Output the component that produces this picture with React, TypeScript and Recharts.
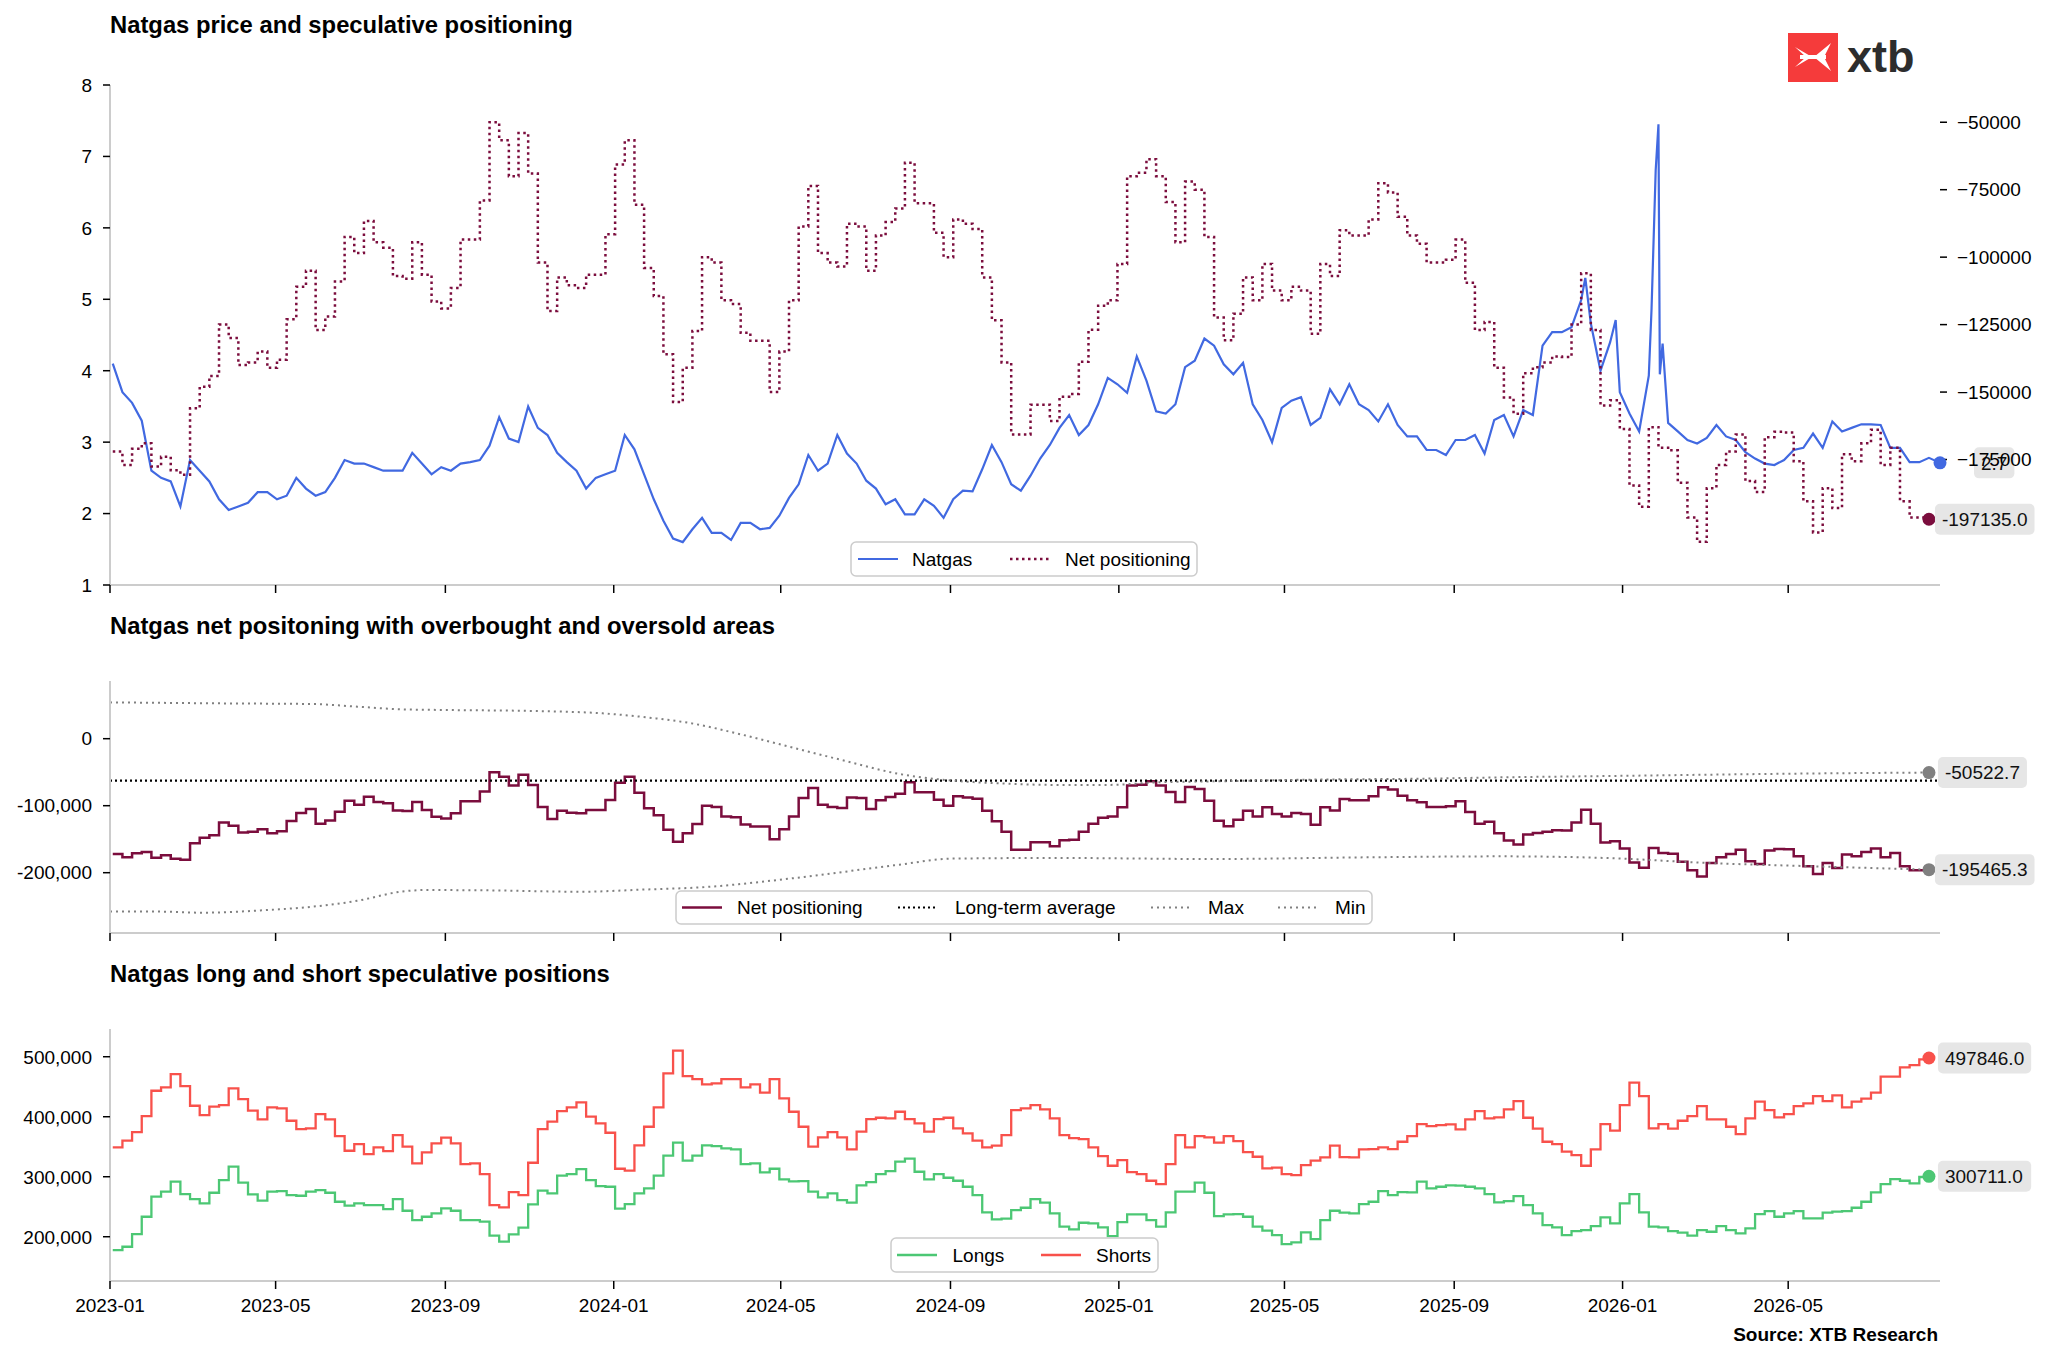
import { LineChart, Line, XAxis, YAxis, ReferenceDot } from 'recharts'

const FONT = '"Liberation Sans", Arial, Helvetica, sans-serif'

const AXIS_START = '2023-01-01'
const AXIS_END = '2026-08-19'      // last natgas print
const FIRST_REPORT = '2023-01-03'  // first weekly COT report (Tuesdays)

const xTickLabels = ['2023-01', '2023-05', '2023-09', '2024-01', '2024-05', '2024-09',
  '2025-01', '2025-05', '2025-09', '2026-01', '2026-05']

const priceTicks = [1, 2, 3, 4, 5, 6, 7, 8]
const netRightTicks = [-175000, -150000, -125000, -100000, -75000, -50000]
const bandTicks = [-200000, -100000, 0]
const positionTicks = [200000, 300000, 400000, 500000]

// weekly COT data, thousands of contracts
const netPositioning = [
  -172, -177, -171, -169, -177.6, -174, -179, -180.6, -156, -148,
  -144, -125, -130, -140, -139, -135, -141, -138, -123, -111,
  -105, -127, -122, -109, -92.5, -98.5, -86.6, -94.5, -96.5, -107,
  -108, -94.5, -106.5, -116.4, -119, -111.4, -93.5, -93.5, -79, -50,
  -56.7, -70, -54, -69, -102, -120, -107.5, -110.4, -111.4, -106.5,
  -106.5, -91.5, -65.7, -56.7, -80.6, -104, -114.4, -136, -153.7, -141,
  -127.4, -100, -102, -116, -117.4, -128, -131, -131, -150, -135,
  -116, -88.6, -73.6, -98.5, -102, -103.5, -87.6, -88.6, -105, -92,
  -87, -82, -65, -80, -80, -91, -100, -86, -87.6, -89.6,
  -107.5, -123.4, -139, -165.7, -165.7, -154.7, -154.7, -160.7, -151.7, -150.7,
  -138.8, -126.9, -118, -116, -102.5, -70, -68.7, -63.7, -70, -79.6,
  -94.5, -72, -75, -92.5, -122.4, -130.8, -121, -107.5, -116, -102.5,
  -112.4, -116, -111, -112.4, -128.4, -102.5, -107, -90, -92, -92,
  -86, -72.6, -76, -85, -92, -95, -102, -102, -101, -93.5,
  -109.5, -127, -124, -141, -152, -158, -143, -140.8, -139, -136.8,
  -137, -125, -106, -127, -155, -153, -163.7, -184.6, -192.5, -163,
  -170.6, -171.6, -183.6, -196.5, -205.5, -185.6, -177, -172, -165.7, -183,
  -187, -166.7, -164.7, -165, -175.6, -190.5, -202, -185.6, -193, -173,
  -175.6, -169, -164, -177, -170.6, -190.5, -196.5, -196.5, -197.135,
]

const longs = [
  177.8, 183.3, 204.4, 233.3, 266.7, 275, 291.7, 271.1, 262.8, 255.6,
  273.3, 294.4, 316.7, 290, 270.6, 260, 275, 276.1, 269.4, 268.3,
  275, 277.8, 273.3, 258.3, 251.7, 255.6, 252.8, 252.8, 246.1, 262.8,
  243.3, 227.8, 233.3, 238.9, 247.2, 243.3, 227.8, 227.8, 225, 201.7,
  191.7, 203.9, 215, 253.9, 276.7, 272.2, 301.7, 304.4, 312.8, 294.4,
  284.4, 283.3, 246.7, 254.4, 272.2, 280.6, 301.7, 335, 356.7, 326.7,
  335, 352.2, 351.1, 347.2, 345.6, 321.1, 322.2, 307.2, 313.3, 295.6,
  292.2, 292.8, 275, 265.6, 272.2, 261.1, 256.7, 285.6, 291.1, 304.4,
  309.4, 325, 330, 308.3, 295.6, 304.4, 298.3, 293.3, 283.3, 269.4,
  240.6, 228.9, 230, 244.4, 248.3, 262.8, 256.7, 238.9, 216.7, 212.2,
  223.3, 222.2, 215.6, 201.1, 224.4, 237.2, 237.2, 227.8, 216.7, 240.6,
  275, 275, 290, 273.3, 234.4, 237.2, 237.8, 233.3, 216.7, 210,
  202.8, 187.8, 190.6, 207.2, 196.1, 227.8, 243.3, 240, 238.9, 254.4,
  258.3, 276.1, 269.4, 274.4, 273.9, 291.7, 280.6, 283.3, 285.6, 285,
  283.3, 280.6, 271.1, 257.2, 259.4, 267.8, 252.8, 238.9, 219.4, 215.6,
  202.8, 209.4, 211.1, 217.8, 232.2, 222.2, 255.6, 271.1, 240.6, 216.7,
  215.6, 209.4, 206.7, 201.7, 211.1, 208.3, 217.8, 211.1, 205.6, 213.9,
  237.8, 242.8, 233.3, 238.9, 242.8, 230.6, 230.6, 240, 241.7, 242.8,
  248.3, 258.3, 273.9, 287.8, 296.1, 293.3, 288.9, 299.5, 300.711,
]

const shorts = [
  348.9, 360, 374.4, 401, 443.3, 448.9, 471, 451, 418.3, 402.8,
  416.7, 419.4, 447.2, 429.4, 410, 395.6, 415.6, 413.9, 393.3, 379.4,
  380.6, 404.4, 395.6, 367.8, 343.3, 354.4, 337.8, 348.9, 342.8, 369.4,
  350, 322.2, 340.6, 355.6, 365, 355.6, 321.1, 322.2, 304.4, 252.8,
  248.9, 274.4, 269.4, 323.3, 379.4, 391.7, 409.4, 415.6, 423.9, 400,
  388.9, 373.3, 313.3, 310, 352.2, 383.3, 415.6, 472.2, 510, 467.8,
  462.8, 453.9, 455.6, 462.8, 462.8, 448.9, 453.9, 440, 462.8, 430.6,
  408.3, 383.3, 350, 365.6, 374.4, 365.6, 345.6, 375, 396, 398.3,
  397.2, 408.3, 396, 388.9, 375, 396, 398.3, 380.6, 372.2, 360,
  348.9, 351.7, 369.4, 411.1, 413.9, 419.4, 412.2, 397.2, 369.4, 364.4,
  362.8, 348.9, 334.4, 318.3, 327.8, 307.8, 304.4, 293.3, 287.8, 321.1,
  369.4, 348.9, 367.8, 365.6, 356.7, 367.8, 359.4, 341.1, 333.3, 313.9,
  315, 304.4, 302.8, 319.4, 326.7, 332.2, 351.7, 332.8, 332.2, 345.6,
  346.1, 348.9, 346.1, 358.3, 367.8, 387.8, 384.4, 386.1, 387.2, 378.9,
  395.6, 409.4, 397.2, 398.9, 412.2, 426.1, 398.3, 380, 358.3, 354.4,
  341.7, 336.1, 318.3, 345.6, 387.8, 376.7, 419.4, 456.7, 434.4, 380.6,
  387.8, 380, 393.3, 401.1, 417.8, 395.6, 395.6, 383.3, 371.1, 397.2,
  425, 411.1, 398.9, 404.4, 417.8, 422.2, 434.4, 426.1, 435.6, 415.6,
  425, 430, 440, 466.7, 466.7, 482.2, 486.1, 495.5, 497.846,
]

// natgas front month, sampled on the report dates
const natgasWeekly = [
  4.1, 3.7, 3.55, 3.3, 2.6, 2.5, 2.45, 2.1, 2.75, 2.6,
  2.45, 2.2, 2.05, 2.1, 2.15, 2.3, 2.3, 2.2, 2.25, 2.5,
  2.35, 2.25, 2.3, 2.5, 2.75, 2.7, 2.7, 2.65, 2.6, 2.6,
  2.6, 2.85, 2.7, 2.55, 2.65, 2.6, 2.7, 2.72, 2.75, 2.95,
  3.35, 3.05, 3.0, 3.5, 3.2, 3.1, 2.85, 2.72, 2.6, 2.35,
  2.5, 2.55, 2.6, 3.1, 2.9, 2.55, 2.2, 1.9, 1.65, 1.6,
  1.78, 1.94, 1.73, 1.73, 1.63, 1.87, 1.87, 1.78, 1.8, 1.97,
  2.22, 2.41, 2.82, 2.6, 2.7, 3.1, 2.84, 2.7, 2.46, 2.35,
  2.13, 2.2, 1.99, 1.99, 2.2, 2.11, 1.94, 2.2, 2.32, 2.31,
  2.62, 2.96, 2.72, 2.41, 2.32, 2.53, 2.77, 2.96, 3.2, 3.38,
  3.1, 3.24, 3.53, 3.9, 3.81, 3.69, 4.2, 3.86, 3.43, 3.4,
  3.53, 4.05, 4.14, 4.45, 4.35, 4.09, 3.95, 4.11, 3.53, 3.31,
  3.0, 3.48, 3.58, 3.63, 3.24, 3.34, 3.74, 3.53, 3.81, 3.53,
  3.45, 3.29, 3.53, 3.24, 3.08, 3.08, 2.89, 2.89, 2.82, 3.03,
  3.03, 3.1, 2.84, 3.31, 3.38, 3.08, 3.45, 3.38, 4.35, 4.54,
  4.54, 4.61, 4.99, 4.66, 4.0, 4.4, 3.7, 3.4, 3.15, 3.93,
  7.45, 3.27, 3.15, 3.03, 2.98, 3.06, 3.24, 3.08, 3.03, 2.86,
  2.77, 2.7, 2.68, 2.75, 2.89, 2.92, 3.12, 2.92, 3.29, 3.15,
  3.2, 3.25, 3.25, 3.24, 2.92, 2.92, 2.72, 2.72, 2.78,
]
// extra prints around the winter spikes plus the latest close
const natgasExtraDates = ['2025-12-05', '2025-12-27', '2026-01-22', '2026-01-25', '2026-01-28', '2026-01-30', '2026-08-19']
const natgasExtraValues = [5.3, 4.71, 4.87, 6.81, 3.95, 4.38, 2.71]

const longTermAverage = -62.5
// overbought / oversold bands (days since 2023-01-01, thousands)
const maxDays = [0, 82, 147, 179, 212, 244, 309, 357, 389, 420, 458, 496, 534, 572, 602, 648, 685, 723, 761, 799, 875, 951, 1014, 1083, 1159, 1240, 1318]
const maxValues = [54.2, 52.7, 51.7, 47.8, 43.8, 42.8, 41.3, 37.8, 31.8, 23.4, 6, -14, -33.8, -52.7, -61, -67, -69, -69, -65, -63.7, -61, -59.7, -57.5, -55.8, -53.7, -51.8, -50.5227]
const minDays = [0, 34, 66, 114, 147, 179, 212, 228, 276, 341, 389, 427, 496, 572, 610, 685, 799, 913, 1007, 1083, 1159, 1235, 1318]
const minValues = [-258, -258, -259.7, -255.7, -250.7, -242, -228, -225.9, -226.4, -228.4, -225, -222, -208, -188, -179, -178, -179.6, -177, -175.6, -178, -185.6, -190.5, -195.4653]

const BLUE = '#4169e1'
const MAROON = '#7b0d3d'
const GREEN = '#4cc774'
const RED = '#f8514b'
const GREY = '#808080'
const SPINE = '#cccccc'

const DAY_MS = 86400000
const dayOf = (iso: string) => (Date.parse(iso) - Date.parse(AXIS_START)) / DAY_MS
const firstDay = dayOf(FIRST_REPORT)
const endDay = dayOf(AXIS_END)
const xTicks = xTickLabels.map(m => dayOf(m + '-01'))

const weeklyRows = netPositioning.map((v, i) => ({
  day: firstDay + 7 * i,
  net: v * 1000,
  longs: longs[i] * 1000,
  shorts: shorts[i] * 1000,
}))
const priceRows = [
  ...natgasWeekly.map((v, i) => ({ day: firstDay + 7 * i, price: v })),
  ...natgasExtraDates.map((d, i) => ({ day: dayOf(d), price: natgasExtraValues[i] })),
].sort((a, b) => a.day - b.day)
const maxRows = maxDays.map((d, i) => ({ day: d, band: maxValues[i] * 1000 }))
const minRows = minDays.map((d, i) => ({ day: d, band: minValues[i] * 1000 }))
const avgRows = [{ day: 0, band: longTermAverage * 1000 }, { day: endDay, band: longTermAverage * 1000 }]

const lastPrice = priceRows[priceRows.length - 1]
const lastWeek = weeklyRows[weeklyRows.length - 1]
const lastMax = maxRows[maxRows.length - 1]
const lastMin = minRows[minRows.length - 1]

const fmtPlain = (v: number) => String(v)
const fmtMinus = (v: number) => String(v).replace('-', '\u2212')
const fmtComma = (v: number) => v.toLocaleString('en-US')

function XTick(props: any) {
  const { x, y, payload, show } = props
  if (!show) return <g />
  const label = xTickLabels[xTicks.indexOf(payload.value)] ?? ''
  return (
    <text x={x} y={y} dy={13.5} textAnchor="middle" fontSize={19} fontFamily={FONT} fill="#000">{label}</text>
  )
}

function YTick(props: any) {
  const { x, y, payload, textAnchor, fmt } = props
  return (
    <text x={x} y={y} dy={6.8} textAnchor={textAnchor} fontSize={19} fontFamily={FONT} fill="#000">{fmt(payload.value)}</text>
  )
}

const textWidth = (s: string, size: number) => {
  let w = 0
  for (const c of s) w += c === '.' ? 0.278 : c === '-' ? 0.333 : 0.556
  return w * size
}

function EndMarker(props: any) {
  const { cx, cy, color, value, gap } = props
  if (cx == null || cy == null) return <g />
  const label = value.toFixed(1)
  const bx = cx + gap
  return (
    <g>
      <circle cx={cx} cy={cy} r={6.5} fill={color} />
      <rect x={bx} y={cy - 15.5} width={textWidth(label, 19) + 14} height={31} rx={5} fill="#e6e6e6" />
      <text x={bx + 7} y={cy + 6.8} fontSize={19} fontFamily={FONT} fill="#111">{label}</text>
    </g>
  )
}

const xAxisProps = {
  type: 'number' as const,
  dataKey: 'day',
  domain: [0, endDay],
  ticks: xTicks,
  interval: 0 as const,
  allowDataOverflow: true,
  axisLine: { stroke: SPINE, strokeWidth: 2 },
  tickLine: { stroke: '#000', strokeWidth: 1.5 },
  tickSize: 8,
}

const leftAxisProps = {
  width: 100,
  tickSize: 7,
  tickMargin: 11,
  interval: 0 as const,
  allowDataOverflow: true,
  axisLine: { stroke: SPINE, strokeWidth: 2 },
  tickLine: { stroke: '#000', strokeWidth: 1.5 },
}

type LegendItem = { label: string; color: string; dash?: string; width: number; x: number; tx: number }

function LegendBox({ x, y, w, h, items }: { x: number; y: number; w: number; h: number; items: LegendItem[] }) {
  const cy = y + h / 2
  return (
    <g>
      <rect x={x} y={y} width={w} height={h} rx={5} fill="rgba(255,255,255,0.8)" stroke={SPINE} strokeWidth={1.5} />
      {items.map(it => (
        <g key={it.label}>
          <line x1={it.x} x2={it.x + 40} y1={cy} y2={cy} stroke={it.color} strokeWidth={it.width} strokeDasharray={it.dash} />
          <text x={it.tx} y={cy + 6.8} fontSize={19} fontFamily={FONT} fill="#000">{it.label}</text>
        </g>
      ))}
    </g>
  )
}

function PriceChart() {
  return (
    <LineChart width={2048} height={620} data={priceRows} margin={{ top: 85, right: 8, bottom: 5, left: 10 }}>
      <XAxis {...xAxisProps} height={30} tick={<XTick show={false} />} />
      <YAxis yAxisId="left" {...leftAxisProps} domain={[1, 8]} ticks={priceTicks}
        tick={<YTick fmt={fmtPlain} />} />
      <YAxis yAxisId="right" orientation="right" width={100} domain={[-221500, -36200]} ticks={netRightTicks}
        interval={0} allowDataOverflow axisLine={false} tickSize={7} tickMargin={10}
        tickLine={{ stroke: '#000', strokeWidth: 1.5 }} tick={<YTick fmt={fmtMinus} />} />
      <Line yAxisId="left" dataKey="price" type="linear" stroke={BLUE} strokeWidth={2.2}
        dot={false} isAnimationActive={false} />
      <Line yAxisId="right" data={weeklyRows} dataKey="net" type="stepAfter" stroke={MAROON} strokeWidth={2.5}
        strokeDasharray="2.5 3.5" dot={false} isAnimationActive={false} />
      <ReferenceDot yAxisId="left" x={lastPrice.day} y={lastPrice.price} ifOverflow="visible"
        shape={(p: any) => <EndMarker {...p} color={BLUE} value={lastPrice.price} gap={34} />} />
      <ReferenceDot yAxisId="right" x={lastWeek.day} y={lastWeek.net} ifOverflow="visible"
        shape={(p: any) => <EndMarker {...p} color={MAROON} value={lastWeek.net} gap={6} />} />
    </LineChart>
  )
}

function BandChart() {
  return (
    <LineChart width={2048} height={340} data={weeklyRows} margin={{ top: 61, right: 108, bottom: 5, left: 10 }}>
      <XAxis {...xAxisProps} height={22} tick={<XTick show={false} />} />
      <YAxis {...leftAxisProps} domain={[-290000, 86100]} ticks={bandTicks} tick={<YTick fmt={fmtComma} />} />
      <Line dataKey="net" type="stepAfter" stroke={MAROON} strokeWidth={2.5} dot={false} isAnimationActive={false} />
      <Line data={avgRows} dataKey="band" type="linear" stroke="#000" strokeWidth={2.2} strokeDasharray="2 3"
        dot={false} isAnimationActive={false} />
      <Line data={maxRows} dataKey="band" type="monotone" stroke={GREY} strokeWidth={2} strokeDasharray="2 4"
        dot={false} isAnimationActive={false} />
      <Line data={minRows} dataKey="band" type="monotone" stroke={GREY} strokeWidth={2} strokeDasharray="2 4"
        dot={false} isAnimationActive={false} />
      <ReferenceDot x={lastMax.day} y={lastMax.band} ifOverflow="visible"
        shape={(p: any) => <EndMarker {...p} color={GREY} value={lastMax.band} gap={9} />} />
      <ReferenceDot x={lastMin.day} y={lastMin.band} ifOverflow="visible"
        shape={(p: any) => <EndMarker {...p} color={GREY} value={lastMin.band} gap={6} />} />
    </LineChart>
  )
}

function PositionsChart() {
  return (
    <LineChart width={2048} height={402} data={weeklyRows} margin={{ top: 69, right: 108, bottom: 41, left: 10 }}>
      <XAxis {...xAxisProps} height={40} tickMargin={9.5} tick={<XTick show />} />
      <YAxis {...leftAxisProps} domain={[126200, 546200]} ticks={positionTicks} tick={<YTick fmt={fmtComma} />} />
      <Line dataKey="longs" type="stepAfter" stroke={GREEN} strokeWidth={2.3} dot={false} isAnimationActive={false} />
      <Line dataKey="shorts" type="stepAfter" stroke={RED} strokeWidth={2.3} dot={false} isAnimationActive={false} />
      <ReferenceDot x={lastWeek.day} y={lastWeek.shorts} ifOverflow="visible"
        shape={(p: any) => <EndMarker {...p} color={RED} value={lastWeek.shorts} gap={9} />} />
      <ReferenceDot x={lastWeek.day} y={lastWeek.longs} ifOverflow="visible"
        shape={(p: any) => <EndMarker {...p} color={GREEN} value={lastWeek.longs} gap={9} />} />
    </LineChart>
  )
}

function Overlay() {
  return (
    <svg width={2048} height={1362} style={{ position: 'absolute', left: 0, top: 0, pointerEvents: 'none' }}>
      <g fontFamily={FONT} fontWeight="bold" fontSize={23.8} fill="#000">
        <text x={110} y={33}>Natgas price and speculative positioning</text>
        <text x={110} y={634}>Natgas net positoning with overbought and oversold areas</text>
        <text x={110} y={982}>Natgas long and short speculative positions</text>
      </g>
      <text x={1938} y={1340.5} textAnchor="end" fontFamily={FONT} fontWeight="bold" fontSize={19} fill="#000">
        Source: XTB Research
      </text>

      {/* xtb logo */}
      <rect x={1788} y={33} width={50} height={49} fill="#f53b3b" />
      <path d="M1795 47 L1812 57 L1795 67 L1806 57 Z" fill="#fff" />
      <path d="M1831 43 L1814 57 L1831 71 L1824 57 Z" fill="#fff" />
      <path d="M1800 55 L1826 55 L1826 59 L1800 59 Z" fill="#fff" />
      <text x={1847} y={72} fontFamily={FONT} fontWeight="bold" fontSize={45} fill="#2d2d2d">xtb</text>

      <LegendBox x={851} y={542} w={346} h={34} items={[
        { label: 'Natgas', color: BLUE, width: 2.2, x: 858, tx: 912 },
        { label: 'Net positioning', color: MAROON, width: 2.5, dash: '2.5 3.5', x: 1010, tx: 1065 },
      ]} />
      <LegendBox x={676} y={891} w={696} h={33} items={[
        { label: 'Net positioning', color: MAROON, width: 2.5, x: 682, tx: 737 },
        { label: 'Long-term average', color: '#000', width: 2.2, dash: '2 3', x: 898, tx: 955 },
        { label: 'Max', color: GREY, width: 2, dash: '2 4', x: 1151, tx: 1208 },
        { label: 'Min', color: GREY, width: 2, dash: '2 4', x: 1278, tx: 1335 },
      ]} />
      <LegendBox x={891} y={1238} w={267} h={34} items={[
        { label: 'Longs', color: GREEN, width: 2.3, x: 897, tx: 952.5 },
        { label: 'Shorts', color: RED, width: 2.3, x: 1041, tx: 1096 },
      ]} />
    </svg>
  )
}

export default function App() {
  return (
    <div style={{ position: 'absolute', left: 0, top: 0, width: 2048, height: 1362, background: '#fff', fontFamily: FONT, overflow: 'hidden' }}>
      <div style={{ position: 'absolute', left: 0, top: 0 }}><PriceChart /></div>
      <div style={{ position: 'absolute', left: 0, top: 620 }}><BandChart /></div>
      <div style={{ position: 'absolute', left: 0, top: 960 }}><PositionsChart /></div>
      <Overlay />
    </div>
  )
}
